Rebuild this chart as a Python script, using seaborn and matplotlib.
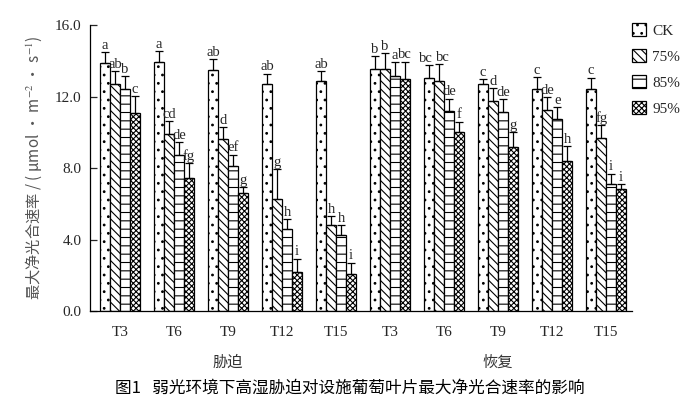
import numpy as np
import pandas as pd
import matplotlib
matplotlib.use("Agg")
import matplotlib.pyplot as plt
import seaborn as sns

sns.set_theme(style="ticks")
plt.rcParams['font.family'] = ['Liberation Serif', 'Noto Sans CJK SC', 'DejaVu Sans']
plt.rcParams['hatch.linewidth'] = 0.8
plt.rcParams['mathtext.fontset'] = 'stix'

periods = ["T3", "T6", "T9", "T12", "T15"]
phases = ["胁迫", "恢复"]
levels = ["CK", "75%", "85%", "95%"]

# values per group: [CK, 75%, 85%, 95%]
stress_vals = [[13.89, 12.68, 12.40, 11.11],
               [13.93, 9.88, 8.75, 7.44],
               [13.48, 9.62, 8.11, 6.60],
               [12.68, 6.28, 4.59, 2.18],
               [12.87, 4.79, 4.23, 2.05]]
recover_vals = [[13.52, 13.52, 13.15, 13.00],
                [13.05, 12.90, 11.19, 10.03],
                [12.68, 11.77, 11.13, 9.17],
                [12.42, 11.24, 10.74, 8.37],
                [12.40, 9.70, 7.09, 6.81]]
stress_err = [[0.58, 0.76, 0.75, 0.92],
              [0.63, 0.76, 0.69, 0.82],
              [0.60, 0.66, 0.64, 0.34],
              [0.60, 1.65, 0.56, 0.75],
              [0.56, 0.52, 0.56, 0.65]]
recover_err = [[0.75, 0.90, 0.76, 0.95],
               [0.71, 0.90, 0.69, 0.56],
               [0.28, 0.71, 0.71, 0.84],
               [0.67, 0.72, 0.66, 0.86],
               [0.65, 0.69, 0.59, 0.28]]
stress_letters = [["a", "ab", "b", "c"],
                  ["a", "cd", "de", "fg"],
                  ["ab", "d", "ef", "g"],
                  ["ab", "g", "h", "i"],
                  ["ab", "h", "h", "i"]]
recover_letters = [["b", "b", "a", "bc"],
                   ["bc", "bc", "de", "f"],
                   ["c", "d", "de", "g"],
                   ["c", "de", "e", "h"],
                   ["c", "fg", "i", "i"]]

rows = []
for ph, vals, errs, lets in [(phases[0], stress_vals, stress_err, stress_letters),
                             (phases[1], recover_vals, recover_err, recover_letters)]:
    for pi, p in enumerate(periods):
        for li, lv in enumerate(levels):
            rows.append(dict(group=f"{ph}{p}", period=p, level=lv,
                             value=vals[pi][li], err=errs[pi][li], letter=lets[pi][li]))
df = pd.DataFrame(rows)
group_order = [f"{ph}{p}" for ph in phases for p in periods]

fig = plt.figure(figsize=(7.0, 4.12), dpi=100)
ax = fig.add_axes([0.1286, 0.245, 0.903 - 0.1286, 0.939 - 0.245])

sns.barplot(data=df, x="group", y="value", hue="level", order=group_order,
            hue_order=levels, width=0.74, gap=0, errorbar=None,
            palette=["white"] * 4, edgecolor="black", linewidth=0.9, ax=ax)

hatches = {"CK": "..", "75%": "\\\\\\\\", "85%": "--", "95%": "xxxxxx"}
labels_info = []
for ci, (cont, lv) in enumerate(zip(ax.containers, levels)):
    sub = df[df.level == lv].set_index("group").loc[group_order]
    for gi, (bar, (_, r)) in enumerate(zip(cont, sub.iterrows())):
        bar.set_hatch(hatches[lv])
        xc = bar.get_x() + bar.get_width() / 2
        h = bar.get_height()
        ax.errorbar(xc, h, yerr=[[0], [r.err]], fmt="none", ecolor="black",
                    elinewidth=0.9, capsize=3, capthick=0.9)
        labels_info.append((gi, ci, xc, h + r.err, r.letter))

# place letters; nudge neighbours apart when two 2-letter labels sit at similar height
lookup = {(g, c): (x, t, s) for g, c, x, t, s in labels_info}
for (g, c), (x, t, s) in lookup.items():
    dx = 0
    nxt = lookup.get((g, c + 1))
    prv = lookup.get((g, c - 1))
    if nxt and len(s) == 2 and len(nxt[2]) == 2 and abs(nxt[1] - t) < 0.8:
        dx -= 2.5
    if prv and len(s) == 2 and len(prv[2]) == 2 and abs(prv[1] - t) < 0.8:
        dx += 2.5
    ax.annotate(s, (x, t + 0.02), xytext=(dx, 0), textcoords="offset points",
                ha="center", va="bottom", fontsize=10.5, family=["Liberation Serif"])

ax.set_ylim(0, 16)
ax.set_yticks([0, 4, 8, 12, 16])
ax.set_yticklabels(["0.0", "4.0", "8.0", "12.0", "16.0"])
ax.set_xlim(-0.556, 9.48)
ax.set_xticks(range(10))
ax.set_xticklabels(periods * 2)
ax.tick_params(axis="y", direction="in", length=5, width=0.9, labelsize=11, pad=6)
ax.tick_params(axis="x", length=0, labelsize=11, pad=11)
for s in ["top", "right"]:
    ax.spines[s].set_visible(False)
for s in ["left", "bottom"]:
    ax.spines[s].set_linewidth(0.9)
    ax.spines[s].set_color("black")
ax.set_xlabel("")
ax.set_ylabel("最大净光合速率 / ( μmol · m$^{-2}$ · s$^{-1}$)", fontsize=11,
              color="#555555", family=["Noto Sans CJK SC", "Liberation Serif"])
ax.yaxis.set_label_coords(-0.085, 0.5)

ax.text(2, -0.18, phases[0], transform=ax.get_xaxis_transform(), ha="center", va="center",
        fontsize=11, color="#333333", family=["Noto Sans CJK SC"])
ax.text(7, -0.18, phases[1], transform=ax.get_xaxis_transform(), ha="center", va="center",
        fontsize=11, color="#333333", family=["Noto Sans CJK SC"])

fig.text(0.5, 0.058, "图1   弱光环境下高湿胁迫对设施葡萄叶片最大净光合速率的影响",
         ha="center", va="center", fontsize=12, color="black",
         family=["Noto Sans CJK SC"], weight="medium")

leg = ax.legend(loc="upper left", bbox_to_anchor=(0.975, 1.055), frameon=False,
                handlelength=0.9, handleheight=0.9, labelspacing=0.75,
                handletextpad=0.4, prop={"family": "Liberation Serif", "size": 11})
for hnd, lv in zip(leg.legend_handles, levels):
    hnd.set_edgecolor("black")
    hnd.set_facecolor("white")
    hnd.set_linewidth(0.9)
    hnd.set_hatch(hatches[lv])

fig.savefig("out.png", dpi=100, facecolor="white")
